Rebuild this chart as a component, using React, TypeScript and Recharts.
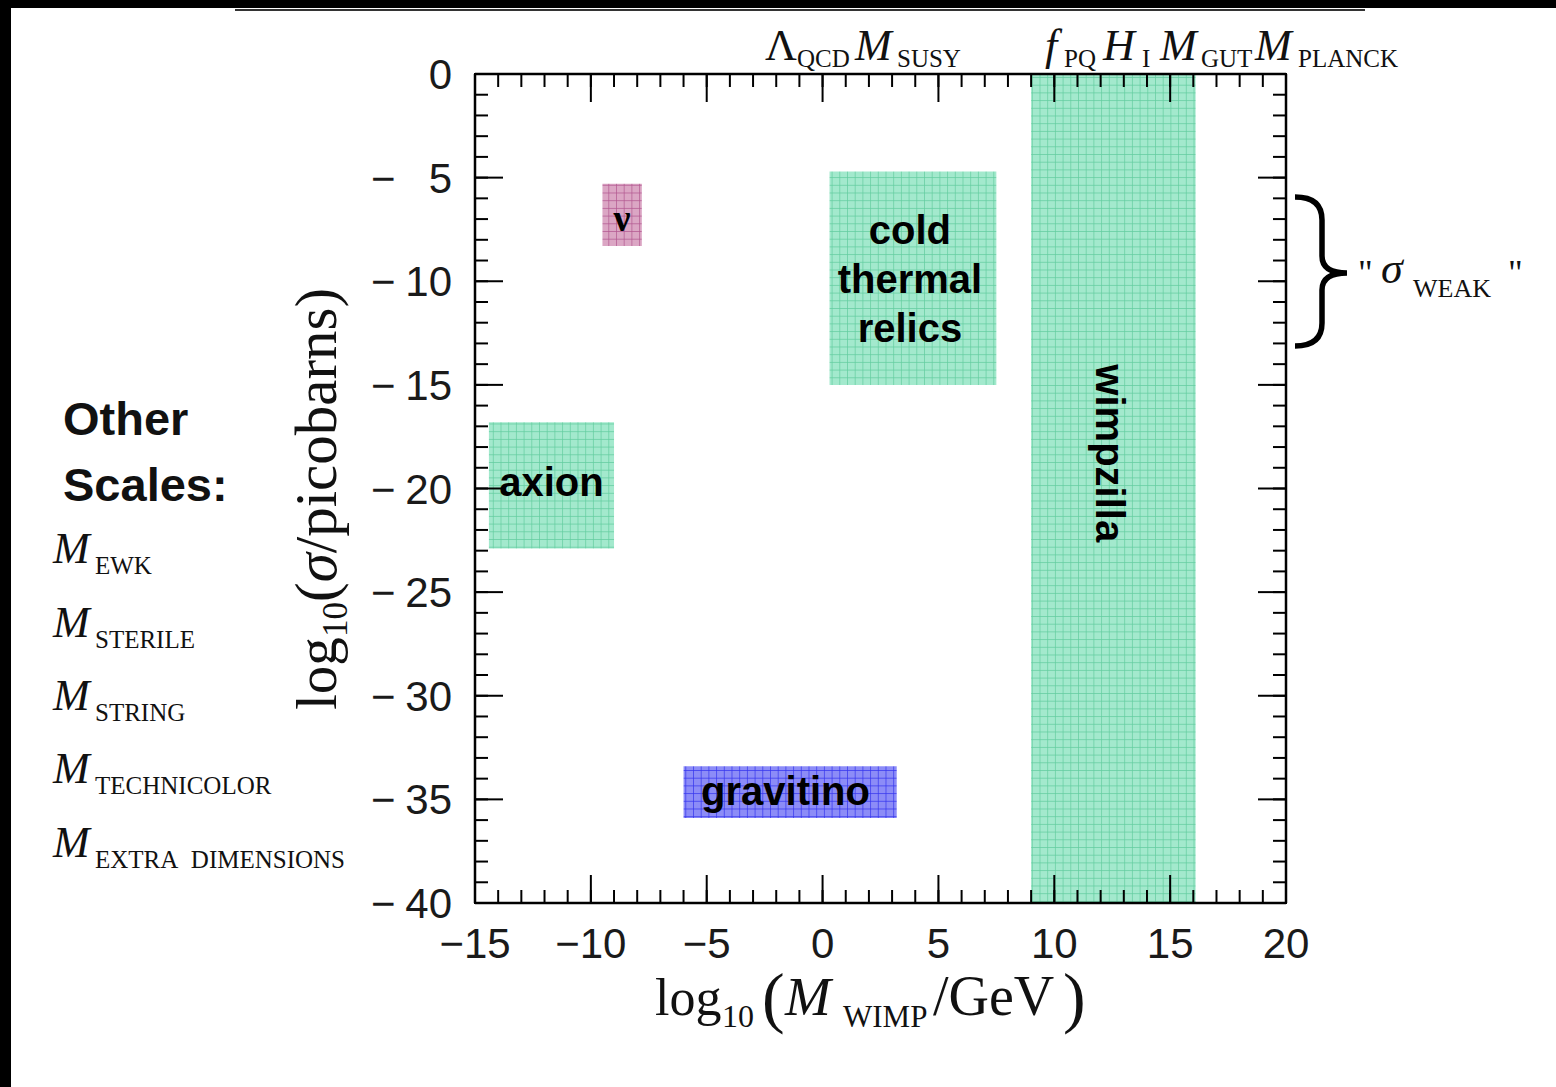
import React from 'react';
import { ComposedChart, XAxis, YAxis, ReferenceArea, Scatter } from 'recharts';

// log10(M_WIMP/GeV) and log10(sigma/pb) ranges
const X_DOMAIN = [-15, 20];
const Y_DOMAIN = [-40, 0];
const xMajorTicks = [-15, -10, -5, 0, 5, 10, 15, 20];
const yMajorTicks = [-40, -35, -30, -25, -20, -15, -10, -5, 0];
const xMinorTicks = Array.from({ length: 36 }, (_, i) => -15 + i);
const yMinorTicks = Array.from({ length: 41 }, (_, i) => -40 + i);

// candidate regions
const regionNames = ['ν', 'cold thermal relics', 'axion', 'gravitino', 'wimpzilla'];
const regionX1 = [-9.5, 0.3, -14.4, -6.0, 9.0];
const regionX2 = [-7.8, 7.5, -9.0, 3.2, 16.1];
const regionY1 = [-5.3, -4.7, -16.8, -33.4, 0];
const regionY2 = [-8.3, -15.0, -22.9, -35.9, -40];
const regionFill = ['pink', 'green', 'green', 'blue', 'green'];
// where each name sits inside its region
const labelX = [-8.66, 3.77, -11.7, -1.6, 12.4];
const labelY = [-6.95, -9.9, -19.7, -34.6, -18.3];

const otherScales = ['EWK', 'STERILE', 'STRING', 'TECHNICOLOR', 'EXTRA\u00a0 DIMENSIONS'];

const SANS = '"Liberation Sans", Arial, sans-serif';
const SERIF = '"Liberation Serif", "Times New Roman", serif';

const labels = regionNames.map((name, i) => ({ name, lx: labelX[i], ly: labelY[i] }));

const fmt = (v: number) => (v < 0 ? '\u2212' + Math.abs(v) : String(v));

const NoLabel = () => <g />;

function XTick(props: any) {
  const { x, y, payload } = props;
  return (
    <text x={x} y={y} textAnchor="middle" fontFamily={SANS} fontSize={42} fill="#1a1a1a">
      {fmt(payload.value)}
    </text>
  );
}

function YTick(props: any) {
  const { x, y, payload } = props;
  const v = payload.value;
  return (
    <g fontFamily={SANS} fontSize={42} fill="#1a1a1a">
      {v < 0 && (
        <text x={x - 81} y={y + 15} textAnchor="start">
          {'\u2212'}
        </text>
      )}
      <text x={x} y={y + 15} textAnchor="end">
        {Math.abs(v)}
      </text>
    </g>
  );
}

function RegionLabel(props: any) {
  const { cx, cy, payload } = props;
  const name = payload.name;
  if (name === 'ν') {
    return (
      <text x={cx} y={cy} textAnchor="middle" dominantBaseline="central" fontFamily={SERIF} fontWeight="bold" fontSize={38}>
        ν
      </text>
    );
  }
  if (name === 'wimpzilla') {
    return (
      <text
        transform={`translate(${cx},${cy}) rotate(90)`}
        textAnchor="middle"
        dominantBaseline="central"
        fontFamily={SANS}
        fontWeight="bold"
        fontSize={40}
      >
        {name}
      </text>
    );
  }
  const lines = name === 'cold thermal relics' ? ['cold', 'thermal', 'relics'] : [name];
  const lh = 49;
  const top = cy - ((lines.length - 1) * lh) / 2;
  return (
    <g fontFamily={SANS} fontWeight="bold" fontSize={40} fill="#000">
      {lines.map((t, i) => (
        <text key={t} x={cx} y={top + i * lh} textAnchor="middle" dominantBaseline="central">
          {t}
        </text>
      ))}
    </g>
  );
}

function Patterns() {
  return (
    <svg width={0} height={0} style={{ position: 'absolute' }}>
      <defs>
        <pattern id="green" width="7.7" height="7.7" patternUnits="userSpaceOnUse">
          <rect width="7.7" height="7.7" fill="#a3e9cd" />
          <path d="M0 0H7.7M0 0V7.7" stroke="#62cc9f" strokeWidth="1.4" />
        </pattern>
        <pattern id="pink" width="7.7" height="7.7" patternUnits="userSpaceOnUse">
          <rect width="7.7" height="7.7" fill="#dba6c4" />
          <path d="M0 0H7.7M0 0V7.7" stroke="#b25890" strokeWidth="1.4" />
        </pattern>
        <pattern id="blue" width="7.7" height="7.7" patternUnits="userSpaceOnUse">
          <rect width="7.7" height="7.7" fill="#8c8cf7" />
          <path d="M0 0H7.7M0 0V7.7" stroke="#3535ee" strokeWidth="1.4" />
        </pattern>
      </defs>
    </svg>
  );
}

function Sub({ x, y, main, sub, subX, italic = true, size = 44, subSize = 25, drop = 11 }: any) {
  return (
    <text fontFamily={SERIF} fill="#111">
      <tspan x={x} y={y} fontSize={size} fontStyle={italic ? 'italic' : 'normal'}>
        {main}
      </tspan>
      <tspan x={subX} y={y + drop} fontSize={subSize}>
        {sub}
      </tspan>
    </text>
  );
}

function Decorations() {
  const otherBaselines = [563, 637, 710, 783, 857];
  return (
    <svg width={1556} height={1087} style={{ position: 'absolute', left: 0, top: 0, pointerEvents: 'none' }}>
      <rect x={0} y={0} width={1556} height={8} fill="#000" />
      <rect x={0} y={0} width={11} height={1087} fill="#000" />
      <line x1={235} y1={10} x2={1365} y2={10} stroke="#333" strokeWidth={2} />

      {/* scale markers above the frame */}
      <Sub x={765} y={60} main="Λ" italic={false} sub="QCD" subX={797} drop={7} />
      <Sub x={855} y={60} main="M" sub="SUSY" subX={897} drop={7} />
      <Sub x={1045} y={60} main="f" sub="PQ" subX={1064} drop={7} />
      <Sub x={1103} y={60} main="H" sub="I" subX={1142} drop={7} />
      <Sub x={1160} y={60} main="M" sub="GUT" subX={1201} drop={7} />
      <Sub x={1255} y={60} main="M" sub="PLANCK" subX={1298} drop={7} />

      {/* other scales */}
      <text x={63} y={435} fontFamily={SANS} fontWeight="bold" fontSize={47} fill="#111">
        Other
      </text>
      <text x={63} y={501} fontFamily={SANS} fontWeight="bold" fontSize={47} fill="#111">
        Scales:
      </text>
      {otherScales.map((s, i) => (
        <Sub key={s} x={53} y={otherBaselines[i]} main="M" sub={s} subX={95} />
      ))}

      {/* sigma weak brace */}
      <path
        d="M1295 197 Q1322 197 1322 220 L1322 256 Q1322 273 1347 273 Q1322 273 1322 290 L1322 323 Q1322 346 1295 346"
        fill="none"
        stroke="#000"
        strokeWidth={5.5}
      />
      <text fontFamily={SERIF} fill="#111">
        <tspan x={1358} y={285} fontSize={36}>"</tspan>
        <tspan x={1381} y={283} fontSize={44} fontStyle="italic">σ</tspan>
        <tspan x={1413} y={297} fontSize={26}>WEAK</tspan>
        <tspan x={1508} y={285} fontSize={36}>"</tspan>
      </text>

      {/* axis titles */}
      <text fontFamily={SERIF} fill="#111" transform="translate(336,0) rotate(-90)">
        <tspan x={-710} y={0} fontSize={57}>log</tspan>
        <tspan x={-637} y={11} fontSize={35}>10</tspan>
        <tspan x={-602} y={0} fontSize={59}>(</tspan>
        <tspan fontSize={59} fontStyle="italic">σ</tspan>
        <tspan fontSize={59}>/picobarns)</tspan>
      </text>
      <text fontFamily={SERIF} fill="#111">
        <tspan x={655} y={1015} fontSize={52}>log</tspan>
        <tspan x={722} y={1027} fontSize={32}>10</tspan>
        <tspan x={762} y={1020} fontSize={68}>(</tspan>
        <tspan x={785} y={1015} fontSize={55} fontStyle="italic">M</tspan>
        <tspan x={843} y={1027} fontSize={31}>WIMP</tspan>
        <tspan x={933} y={1015} fontSize={56}>/GeV</tspan>
        <tspan x={1063} y={1020} fontSize={68}>)</tspan>
      </text>
    </svg>
  );
}

const axisLine = { stroke: '#000', strokeWidth: 2.5 };
const tickLine = { stroke: '#000', strokeWidth: 2 };

export default function App() {
  return (
    <div style={{ position: 'absolute', left: 0, top: 0, width: 1556, height: 1087, background: '#fff' }}>
      <Patterns />
      <ComposedChart
        width={1556}
        height={1087}
        data={labels}
        margin={{ top: 72, right: 268, bottom: 182, left: 473 }}
        style={{ position: 'absolute', left: 0, top: 0 }}
      >
        <XAxis
          xAxisId="b"
          dataKey="lx"
          type="number"
          domain={X_DOMAIN}
          allowDataOverflow
          ticks={xMajorTicks}
          interval={0}
          height={1}
          orientation="bottom"
          tickSize={-28}
          tickMargin={83}
          axisLine={axisLine}
          tickLine={tickLine}
          tick={<XTick />}
        />
        <XAxis xAxisId="bm" dataKey="lx" type="number" domain={X_DOMAIN} allowDataOverflow ticks={xMinorTicks} interval={0} height={1}
          orientation="bottom" tickSize={-14} axisLine={false} tickLine={tickLine} tick={<NoLabel />} />
        <XAxis xAxisId="t" dataKey="lx" type="number" domain={X_DOMAIN} allowDataOverflow ticks={xMajorTicks} interval={0} height={1}
          orientation="top" tickSize={-28} axisLine={axisLine} tickLine={tickLine} tick={<NoLabel />} />
        <XAxis xAxisId="tm" dataKey="lx" type="number" domain={X_DOMAIN} allowDataOverflow ticks={xMinorTicks} interval={0} height={1}
          orientation="top" tickSize={-14} axisLine={false} tickLine={tickLine} tick={<NoLabel />} />
        <YAxis
          yAxisId="l"
          dataKey="ly"
          type="number"
          domain={Y_DOMAIN}
          allowDataOverflow
          ticks={yMajorTicks}
          interval={0}
          width={1}
          orientation="left"
          tickSize={-28}
          tickMargin={51}
          axisLine={axisLine}
          tickLine={tickLine}
          tick={<YTick />}
        />
        <YAxis yAxisId="lm" dataKey="ly" type="number" domain={Y_DOMAIN} allowDataOverflow ticks={yMinorTicks} interval={0} width={1}
          orientation="left" tickSize={-14} axisLine={false} tickLine={tickLine} tick={<NoLabel />} />
        <YAxis yAxisId="r" dataKey="ly" type="number" domain={Y_DOMAIN} allowDataOverflow ticks={yMajorTicks} interval={0} width={1}
          orientation="right" tickSize={-28} axisLine={axisLine} tickLine={tickLine} tick={<NoLabel />} />
        <YAxis yAxisId="rm" dataKey="ly" type="number" domain={Y_DOMAIN} allowDataOverflow ticks={yMinorTicks} interval={0} width={1}
          orientation="right" tickSize={-14} axisLine={false} tickLine={tickLine} tick={<NoLabel />} />

        {regionNames.map((n, i) => (
          <ReferenceArea
            key={n}
            xAxisId="b"
            yAxisId="l"
            x1={regionX1[i]}
            x2={regionX2[i]}
            y1={regionY1[i]}
            y2={regionY2[i]}
            fill={`url(#${regionFill[i]})`}
            fillOpacity={1}
            stroke="none"
            ifOverflow="visible"
          />
        ))}
        <Scatter
          xAxisId="b"
          yAxisId="l"
          data={labels}
          dataKey="ly"
          isAnimationActive={false}
          shape={(p: any) => <RegionLabel {...p} />}
        />
      </ComposedChart>
      <Decorations />
    </div>
  );
}
